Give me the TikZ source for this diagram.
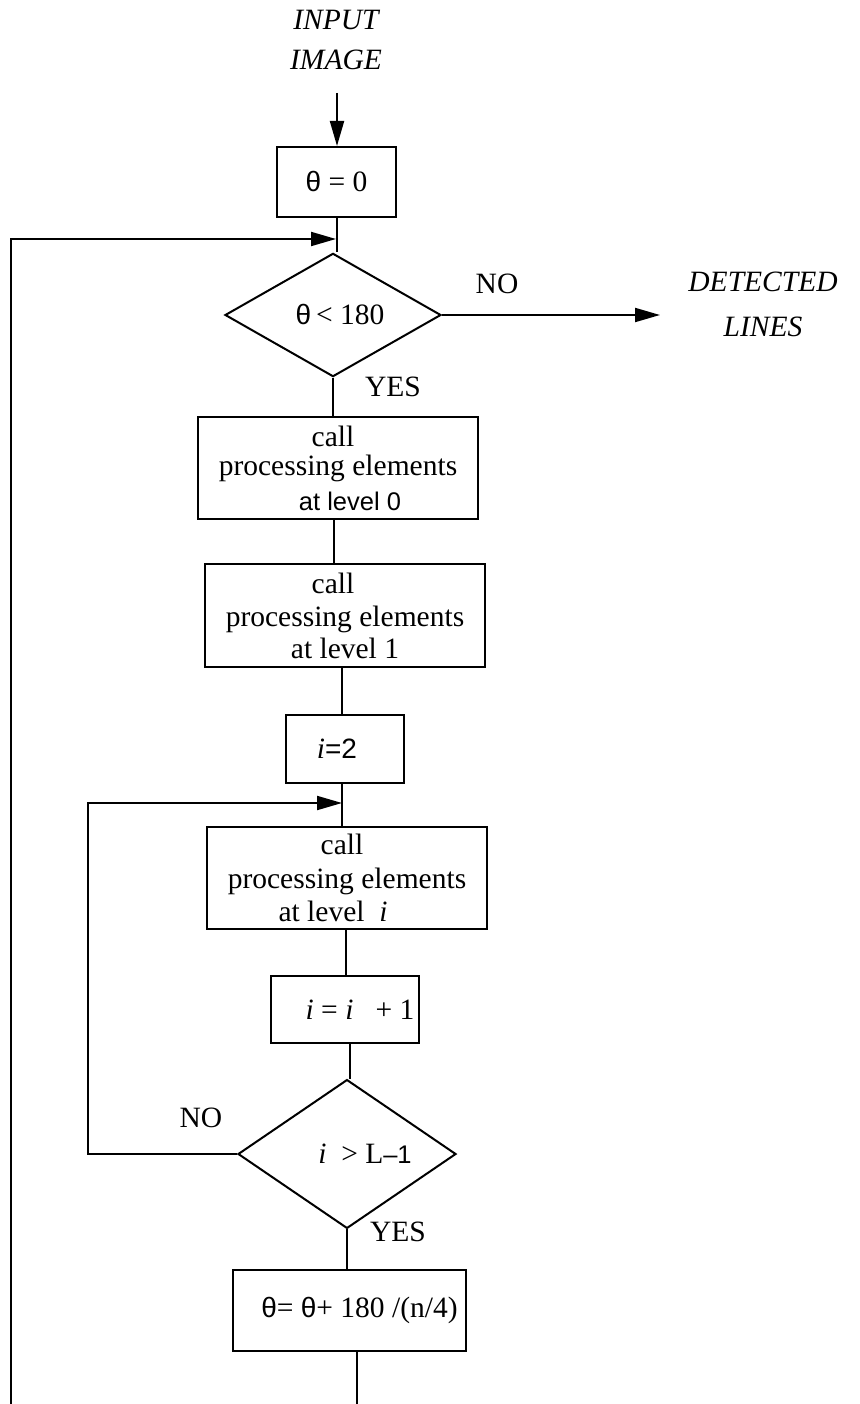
\documentclass[tikz,border=0pt]{standalone}
\usepackage{fontspec}
\setmainfont{Liberation Serif}
\newfontfamily\sfx{Liberation Sans}
\usetikzlibrary{shapes.geometric,arrows.meta}
\newcommand{\thx}{{\sfx\fontsize{28}{30}\selectfont θ}}
\newcommand{\sfs}[1]{{\sfx\fontsize{25.5}{30}\selectfont #1}}
\newcommand{\iv}{\textit{i}}
\begin{document}
\begin{tikzpicture}[x=1pt,y=-1pt,
  every node/.style={font=\fontsize{29.5}{32}\selectfont},
  box/.style={draw,line width=2pt,inner sep=0pt,align=center},
  dia/.style={draw,diamond,line width=2pt,inner sep=0pt},
  conn/.style={line width=2pt},
  arr/.style={line width=2pt,-{Triangle[length=25pt,width=14pt]}},
  lbl/.style={inner sep=0pt}
]
\useasboundingbox (0,0) rectangle (859,1404);

% terminal texts
\node[lbl,align=center,font=\itshape\fontsize{29.5}{40}\selectfont] (inp) at (336,40) {INPUT\\IMAGE};
\node[lbl,align=center,font=\itshape\fontsize{29.5}{45}\selectfont] (det) at (763,304) {DETECTED\\LINES};

% boxes and decisions
\node[box,minimum width=119pt,minimum height=70pt] (b0) at (336.5,182) {\thx\ = 0};
\node[dia,minimum width=216pt,minimum height=114pt] (d1) at (333,315) {\hspace*{14pt}\thx\,< 180};
\node[box,minimum width=280pt,minimum height=102pt] (b1) at (338,468)
  {call\hspace*{10pt}\\[-3pt]processing elements\\[3pt]\hspace*{24pt}\sfs{at level 0}};
\node[box,minimum width=280pt,minimum height=103pt] (b2) at (345,615.5)
  {call\hspace*{24pt}\\[1pt]processing elements\\[0pt]at level 1};
\node[box,minimum width=118pt,minimum height=68pt] (b3) at (345,749)
  {\iv{\sfx\fontsize{28}{30}\selectfont =2}\hspace*{16pt}};
\node[box,minimum width=280pt,minimum height=102pt] (b4) at (347,878)
  {call\hspace*{10pt}\\[2pt]processing elements\\[1pt]at level\ \ \iv\hspace*{28pt}};
\node[box,minimum width=148pt,minimum height=67pt] (b5) at (345,1009.5)
  {\hspace*{30pt}\iv\ = \iv\ \ \ + 1};
\node[dia,minimum width=218pt,minimum height=112pt] (d2) at (347,1154)
  {\hspace*{36pt}\iv\ \ > L\sfs{–1}};
\node[box,minimum width=233pt,minimum height=81pt] (b6) at (349.5,1310.5)
  {\hspace*{20pt}\thx= \thx+ 180 /(n/4)};

% labels
\node[lbl] (no1) at (497,284) {NO};
\node[lbl] (yes1) at (393,387) {YES};
\node[lbl] (no2) at (201,1118) {NO};
\node[lbl] (yes2) at (398,1232) {YES};

% free ends
\coordinate (inS) at (337,93);
\coordinate (detE) at (660,318);
\coordinate (J1) at (336,239);
\coordinate (L1) at (11,1404);
\coordinate (J2) at (342,803);
\coordinate (L2) at (88,1154);
\coordinate (endB) at (357,1404);

% connectors
\draw[arr] (inS) -- (inS |- b0.north);
\draw[conn] (b0.south) -- (b0.south |- d1.north);
\draw[arr] (L1) -- (L1 |- J1) -- (J1);
\draw[arr] (d1.east) -- (d1.east -| detE);
\draw[conn] (d1.south) -- (d1.south |- b1.north);
\draw[conn] ([xshift=-4pt]b1.south) -- ([xshift=-4pt]b1.south |- b2.north);
\draw[conn] ([xshift=-3pt]b2.south) -- ([xshift=-3pt]b2.south |- b3.north);
\draw[conn] ([xshift=-3pt]b3.south) -- ([xshift=-3pt]b3.south |- b4.north);
\draw[arr] (d2.west) -- (d2.west -| L2) -- (L2 |- J2) -- (J2);
\draw[conn] ([xshift=-1pt]b4.south) -- ([xshift=-1pt]b4.south |- b5.north);
\draw[conn] ([xshift=5pt]b5.south) -- ([xshift=5pt]b5.south |- d2.north);
\draw[conn] (d2.south) -- (d2.south |- b6.north);
\draw[conn] ([xshift=7.5pt]b6.south) -- (endB);
\end{tikzpicture}
\end{document}
